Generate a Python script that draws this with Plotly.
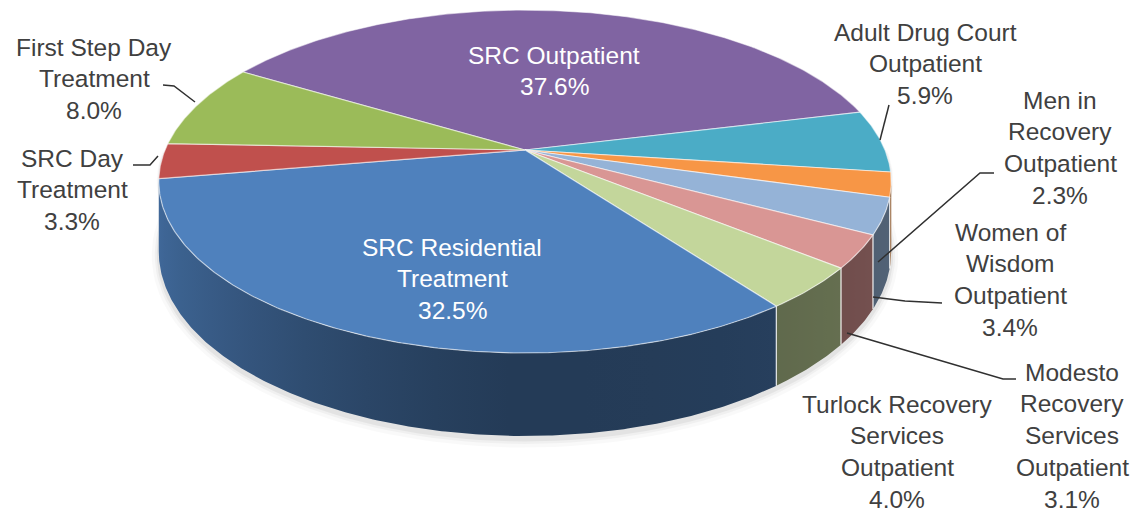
import math
import plotly.graph_objects as go

# ---------------- data ----------------
labels = [
    "SRC Outpatient",
    "Adult Drug Court Outpatient",
    "Men in Recovery Outpatient",
    "Women of Wisdom Outpatient",
    "Modesto Recovery Services Outpatient",
    "Turlock Recovery Services Outpatient",
    "SRC Residential Treatment",
    "SRC Day Treatment",
    "First Step Day Treatment",
]
values = [37.6, 5.9, 2.3, 3.4, 3.1, 4.0, 32.5, 3.3, 8.0]
label_lines = [
    ["SRC Outpatient"],
    ["Adult Drug Court", "Outpatient"],
    ["Men in", "Recovery", "Outpatient"],
    ["Women of", "Wisdom", "Outpatient"],
    ["Modesto", "Recovery", "Services", "Outpatient"],
    ["Turlock Recovery", "Services", "Outpatient"],
    ["SRC Residential", "Treatment"],
    ["SRC Day", "Treatment"],
    ["First Step Day", "Treatment"],
]
colors = ["#8064A2", "#4BACC6", "#F79646", "#95B3D7", "#D99694",
          "#C3D69B", "#4F81BD", "#C0504D", "#9BBB59"]

# ---------------- layout / style ----------------
W, H = 1144, 514
CX, CY = 525, 150          # apex of the pie on screen
A, B, K = 360.0, 165.7, 0.1837   # perspective ellipse parameters
DEPTH = 83.0
START = 149.0              # start angle (deg), slices go clockwise
TEXT = "#404040"
FONT = "Liberation Sans, Arial, sans-serif"
FS = 24.5
LS = 31.8                  # line spacing of labels

# label anchor: (center x, first line y, colour)
label_pos = [
    (554, 55, "white"),
    (925, 32, TEXT),
    (1060, 100, TEXT),
    (1010, 232, TEXT),
    (1072, 372, TEXT),
    (897, 404, TEXT),
    (452, 247, "white"),
    (72, 158, TEXT),
    (94, 47, TEXT),
]
# leader lines (label side decoration)
leaders = {
    1: [(880, 140), (889, 105)],
    2: [(878, 262), (980, 173), (994, 173)],
    3: [(873, 297), (905, 301), (942, 303)],
    4: [(847, 333), (1003, 379), (1016, 379)],
    7: [(158, 156), (150, 165), (133, 165)],
    8: [(195, 102), (174, 86), (163, 85)],
}


def proj(theta, depth=0.0, grow=0.0):
    t = math.radians(theta)
    s, c = math.sin(t), math.cos(t)
    den = 1 + K * s
    x = CX + (A + grow) * c / den
    y = CY - (B + grow) * s / den + depth * (1 - K) / den
    return x, y


def hex2rgb(h):
    h = h.lstrip("#")
    return tuple(int(h[i:i + 2], 16) for i in (0, 2, 4))


def shade(hexc, f):
    r, g, b = hex2rgb(hexc)
    return "rgb(%d,%d,%d)" % (min(255, r * f), min(255, g * f), min(255, b * f))


total = sum(values)
angles = []
a0 = START
for v in values:
    span = v / total * 360.0
    angles.append((a0, a0 - span))
    a0 -= span

fig = go.Figure()

# soft shadow under the pie
for grow, op in [(7, 0.025), (4, 0.035), (2, 0.05)]:
    xs, ys = [], []
    for j in range(180, 361, 2):
        p = proj(j, DEPTH + 3, grow)
        xs.append(p[0]); ys.append(p[1])
    for j in range(360, 179, -2):
        p = proj(j, 0, grow * 0.3)
        xs.append(p[0]); ys.append(p[1])
    fig.add_trace(go.Scatter(x=xs, y=ys, fill="toself", mode="lines",
                             line=dict(width=0), fillcolor="rgba(0,0,0,%s)" % op,
                             hoverinfo="skip", showlegend=False))

# visible side range
vis_hi = -math.degrees(math.asin(K))
vis_lo = -180 - vis_hi


def side_factor(theta):
    c = math.cos(math.radians(theta))
    return 0.46 + 0.36 * max(0.0, -c) ** 1.4 + 0.10 * max(0.0, c) ** 2


# side faces (one polygon per slice with a horizontal gradient)
for idx, (sa, ea) in enumerate(angles):
    hi = min(sa, vis_hi)
    lo = max(ea, vis_lo)
    if hi <= lo:
        continue
    n = max(2, int(math.ceil((hi - lo) / 0.5)))
    ts = [lo + (hi - lo) * j / n for j in range(n + 1)]
    top = [proj(t) for t in ts]
    bot = [proj(t, DEPTH) for t in ts]
    xs = [p[0] for p in top] + [p[0] for p in bot[::-1]] + [top[0][0]]
    ys = [p[1] for p in top] + [p[1] for p in bot[::-1]] + [top[0][1]]
    x0, x1 = min(xs), max(xs)
    m = 12
    cs = []
    for j in range(m + 1):
        t = lo + (hi - lo) * j / m
        xp = proj(t)[0]
        pos = (xp - x0) / (x1 - x0) if x1 > x0 else j / m
        pos = min(1.0, max(0.0, pos))
        if cs and pos <= cs[-1][0]:
            pos = min(1.0, cs[-1][0] + 1e-6)
        cs.append([pos, shade(colors[idx], side_factor(t))])
    cs[0][0] = 0.0
    cs[-1][0] = 1.0
    mid = shade(colors[idx], side_factor((lo + hi) / 2))
    fig.add_trace(go.Scatter(
        x=xs, y=ys, fill="toself", mode="lines", fillcolor=mid,
        fillgradient=dict(type="horizontal", colorscale=cs, start=x0, stop=x1),
        line=dict(width=0), hoverinfo="skip", showlegend=False))

# slice separators on the side
for idx, (sa, ea) in enumerate(angles):
    for t in (sa, ea):
        if vis_lo < t < vis_hi:
            p = proj(t)
            q = proj(t, DEPTH)
            fig.add_trace(go.Scatter(x=[p[0], q[0]], y=[p[1], q[1]], mode="lines",
                                     line=dict(color="rgba(255,255,255,0.55)", width=1.2),
                                     hoverinfo="skip", showlegend=False))

# top faces
for idx, (sa, ea) in enumerate(angles):
    n = max(2, int(math.ceil((sa - ea) / 0.5)))
    xs, ys = [CX], [CY]
    for j in range(n + 1):
        t = sa - (sa - ea) * j / n
        p = proj(t)
        xs.append(p[0]); ys.append(p[1])
    xs.append(CX); ys.append(CY)
    fig.add_trace(go.Scatter(
        x=xs, y=ys, fill="toself", mode="lines", fillcolor=colors[idx],
        line=dict(color="rgba(255,255,255,0.55)", width=1.2),
        name=labels[idx], hoverinfo="name", showlegend=False))

# leader lines
for idx, pts in leaders.items():
    fig.add_trace(go.Scatter(x=[p[0] for p in pts], y=[p[1] for p in pts],
                             mode="lines", line=dict(color="#303030", width=1.5),
                             hoverinfo="skip", showlegend=False))

# labels
for idx, lines in enumerate(label_lines):
    cx, y0, col = label_pos[idx]
    all_lines = lines + ["%.1f%%" % values[idx]]
    for j, ln in enumerate(all_lines):
        fig.add_annotation(x=cx, y=y0 + j * LS, text=ln, showarrow=False,
                           xanchor="center", yanchor="middle",
                           font=dict(family=FONT, size=FS, color=col))

fig.update_layout(
    width=W, height=H, autosize=False,
    margin=dict(l=0, r=0, t=0, b=0),
    paper_bgcolor="white", plot_bgcolor="white",
    xaxis=dict(range=[0, W], visible=False, fixedrange=True),
    yaxis=dict(range=[H, 0], visible=False, fixedrange=True),
    showlegend=False,
)

fig.write_html("out.html", config={"displayModeBar": False},
               post_script="document.body.style.margin='0';")
